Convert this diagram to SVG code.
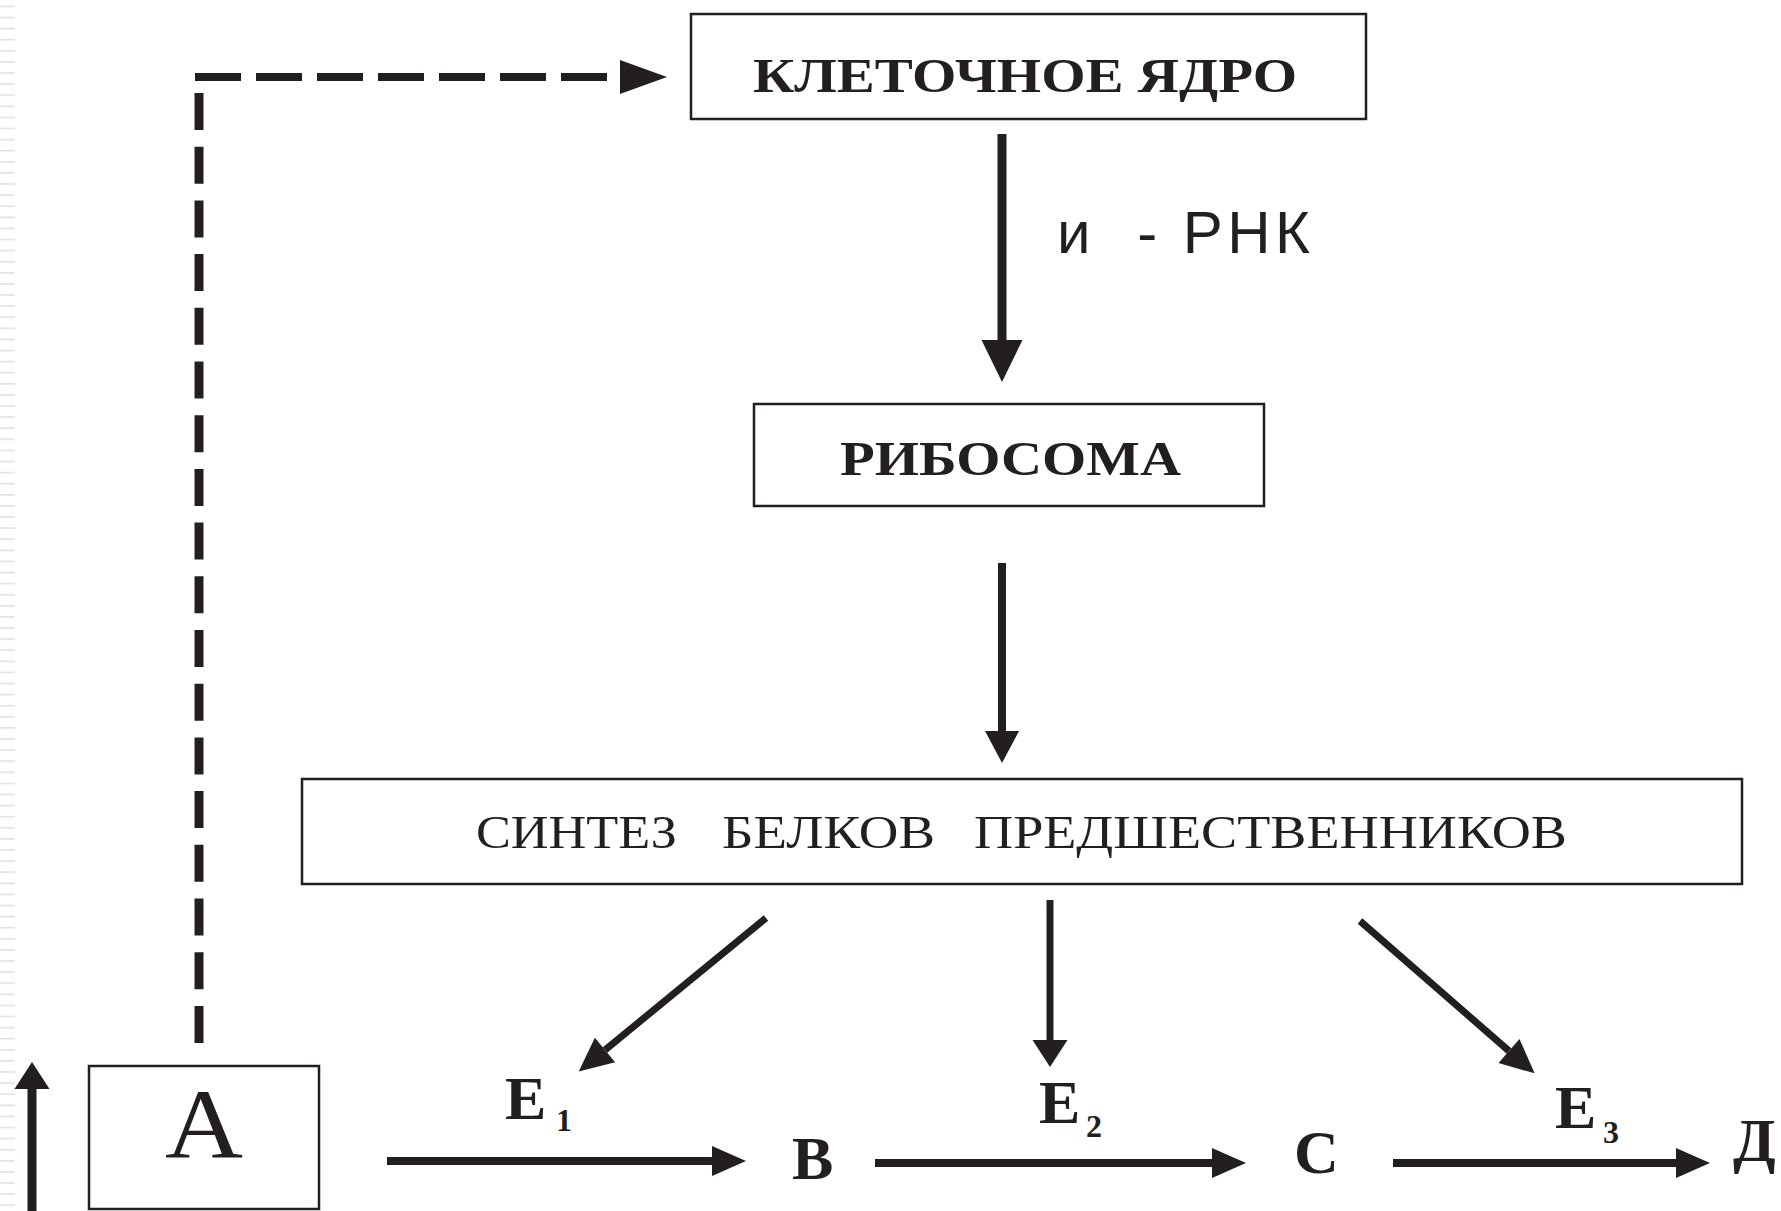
<svg xmlns="http://www.w3.org/2000/svg" width="1781" height="1211" viewBox="0 0 1781 1211">
<style>
.box{fill:#fff;stroke:#231f20;stroke-width:2.5}
.hb{font-family:"Liberation Serif","Times New Roman",serif;font-weight:bold;font-size:48px;fill:#231f20}
.hr{font-family:"Liberation Serif","Times New Roman",serif;font-size:47px;fill:#231f20}
.lt{font-family:"Liberation Serif","Times New Roman",serif;font-weight:bold;font-size:62px;fill:#231f20}
.sub{font-family:"Liberation Serif","Times New Roman",serif;font-weight:bold;font-size:32px;fill:#231f20}
.sans{font-family:"Liberation Sans",Arial,sans-serif;font-size:60px;fill:#231f20}
.ln{fill:none;stroke:#231f20}
</style>
<defs>
<pattern id="stripes" patternUnits="userSpaceOnUse" width="15" height="11.1">
<rect x="0" y="5.6" width="15" height="1.6" fill="#e2e2e2"/>
</pattern>
<marker id="mBig" markerUnits="userSpaceOnUse" markerWidth="44" markerHeight="42" refX="0" refY="20.5" orient="auto" overflow="visible"><path d="M0,0 L42,20.5 L0,41 Z" fill="#231f20"/></marker>
<marker id="mMid" markerUnits="userSpaceOnUse" markerWidth="34" markerHeight="34" refX="0" refY="17" orient="auto" overflow="visible"><path d="M0,0 L32,17 L0,34 Z" fill="#231f20"/></marker>
<marker id="mDash" markerUnits="userSpaceOnUse" markerWidth="48" markerHeight="36" refX="0" refY="17" orient="auto" overflow="visible"><path d="M0,0 L47,17 L0,34 Z" fill="#231f20"/></marker>
<marker id="mH" markerUnits="userSpaceOnUse" markerWidth="36" markerHeight="32" refX="0" refY="15" orient="auto" overflow="visible"><path d="M0,0 L34,15 L0,30 Z" fill="#231f20"/></marker>
<marker id="mE" markerUnits="userSpaceOnUse" markerWidth="36" markerHeight="36" refX="0" refY="16" orient="auto" overflow="visible"><path d="M0,0 L34,16 L0,32 Z" fill="#231f20"/></marker>
<marker id="mE2" markerUnits="userSpaceOnUse" markerWidth="30" markerHeight="36" refX="0" refY="17.5" orient="auto" overflow="visible"><path d="M0,0 L27,17.5 L0,35 Z" fill="#231f20"/></marker>
</defs>
<rect width="1781" height="1211" fill="#fff"/>
<rect x="0" y="0" width="15" height="1211" fill="url(#stripes)"/>

<g id="connectors">
<path class="ln" d="M195,77 H620" stroke-width="8" stroke-dasharray="46 15" marker-end="url(#mDash)"/>
<path class="ln" d="M199,93 V1044" stroke-width="9" stroke-dasharray="37 16.7"/>
<path class="ln" d="M1002,134 V340" stroke-width="9" marker-end="url(#mBig)"/>
<path class="ln" d="M1002,563 V731" stroke-width="8" marker-end="url(#mMid)"/>
<path class="ln" d="M766,918 L605,1050" stroke-width="7" marker-end="url(#mE)"/>
<path class="ln" d="M1050,900 V1040" stroke-width="7" marker-end="url(#mE2)"/>
<path class="ln" d="M1360,921 L1509,1051" stroke-width="7" marker-end="url(#mE)"/>
<path class="ln" d="M387,1161 H712" stroke-width="8" marker-end="url(#mH)"/>
<path class="ln" d="M875,1163 H1212" stroke-width="8" marker-end="url(#mH)"/>
<path class="ln" d="M1393,1163 H1676" stroke-width="8" marker-end="url(#mH)"/>
<path class="ln" d="M32,1211 V1089" stroke-width="9" marker-end="url(#mE2)"/>
</g>

<g id="mrna-label">
<text class="sans" x="1057" y="253" xml:space="preserve" textLength="253" lengthAdjust="spacing">и  - РНК</text>
</g>

<g id="node-nucleus">
<rect class="box" x="691" y="14" width="675" height="105"/>
<text class="hb" x="753" y="92" textLength="544" lengthAdjust="spacingAndGlyphs">КЛЕТОЧНОЕ ЯДРО</text>
</g>

<g id="node-ribosome">
<rect class="box" x="754" y="404" width="510" height="102"/>
<text class="hb" x="840" y="475" textLength="341" lengthAdjust="spacingAndGlyphs">РИБОСОМА</text>
</g>

<g id="node-synthesis">
<rect class="box" x="302" y="779" width="1440" height="105"/>
<text class="hr" y="848"><tspan x="476" textLength="201" lengthAdjust="spacingAndGlyphs">СИНТЕЗ</tspan> <tspan x="722" textLength="213" lengthAdjust="spacingAndGlyphs">БЕЛКОВ</tspan> <tspan x="974" textLength="593" lengthAdjust="spacingAndGlyphs">ПРЕДШЕСТВЕННИКОВ</tspan></text>
</g>

<g id="node-A">
<rect class="box" x="89" y="1066" width="230" height="143"/>
<text x="165" y="1158" font-family="Liberation Serif, Times New Roman, serif" font-size="100" fill="#231f20" textLength="78" lengthAdjust="spacingAndGlyphs">A</text>
</g>

<g id="node-E1"><text class="lt" x="505" y="1119">E<tspan class="sub" x="556" y="1131">1</tspan></text></g>
<g id="node-E2"><text class="lt" x="1039" y="1123">E<tspan class="sub" x="1086" y="1137">2</tspan></text></g>
<g id="node-E3"><text class="lt" x="1555" y="1128">E<tspan class="sub" x="1603" y="1143">3</tspan></text></g>
<g id="node-B"><text class="lt" x="792" y="1179">B</text></g>
<g id="node-C"><text class="lt" x="1294" y="1173">C</text></g>
<g id="node-D"><text class="lt" x="1733" y="1161">Д</text></g>
</svg>
